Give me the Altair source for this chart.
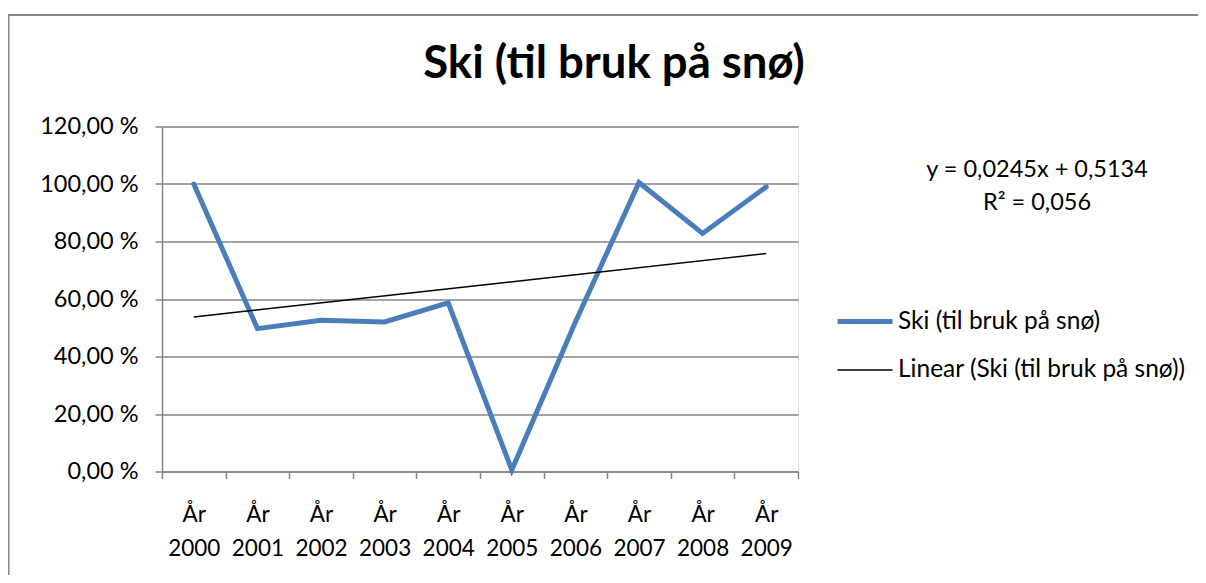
import altair as alt
import pandas as pd

# ---- data ----
years = ["2000", "2001", "2002", "2003", "2004", "2005", "2006", "2007", "2008", "2009"]
share = [1.00, 0.497, 0.526, 0.520, 0.587, 0.005, 0.520, 1.005, 0.828, 0.990]
series_name = "Ski (til bruk på snø)"
trend_name = "Linear (Ski (til bruk på snø))"
equation_lines = ["y = 0,0245x + 0,5134", "R² = 0,056"]
y_ticks = [0.0, 0.2, 0.4, 0.6, 0.8, 1.0, 1.2]
title_text = "Ski (til bruk på snø)"

df = pd.DataFrame({
    "idx": list(range(1, len(years) + 1)),
    "year": years,
    "value": share,
    "series": series_name,
})

FONT = "Lato"
GRID = "#868686"
BLUE = "#4A7EBB"
W, H = 636, 345

n = len(years)
label_positions = list(range(1, n + 1))
boundary_positions = [i + 0.5 for i in range(0, n + 1)]

# nested ternary: tick position -> year label
year_expr = "''"
for i in range(n, 0, -1):
    year_expr = f"(round(datum.value) == {i} ? '{years[i - 1]}' : {year_expr})"

x_scale = alt.Scale(domain=[0.5, n + 0.5], nice=False, zero=False)
y_scale = alt.Scale(domain=[0, 1.2], nice=False)
color_scale = alt.Scale(domain=[series_name, trend_name], range=[BLUE, "#000000"])
sw_scale = alt.Scale(domain=[series_name, trend_name], range=[5, 1.5])

x_label_axis = alt.Axis(
    orient="bottom",
    values=label_positions,
    title=None,
    grid=False,
    ticks=False,
    domainColor=GRID,
    domainWidth=1.5,
    labelExpr=f"['År', {year_expr}]",
    labelAngle=0,
    labelAlign="center",
    labelFont=FONT,
    labelFontSize=22.5,
    labelColor="black",
    labelLineHeight=34,
    labelPadding=32,
    labelOverlap=False,
    labelBound=False,
    labelFlush=False,
)

x_tick_axis = alt.Axis(
    orient="bottom",
    values=boundary_positions,
    title=None,
    grid=False,
    labels=False,
    domain=False,
    tickColor=GRID,
    tickWidth=1.5,
    tickSize=7,
)

y_axis = alt.Axis(
    values=y_ticks,
    title=None,
    grid=True,
    gridColor=GRID,
    gridWidth=1.5,
    domainColor=GRID,
    domainWidth=1.5,
    tickColor=GRID,
    tickWidth=1.5,
    tickSize=7,
    labelExpr="replace(format(datum.value * 100, '.2f'), '.', ',') + ' %'",
    labelFont=FONT,
    labelFontSize=23.5,
    labelColor="black",
    labelPadding=17,
)

legend = alt.Legend(
    title=None,
    orient="none",
    legendX=673,
    legendY=165,
    symbolType="stroke",
    symbolSize=3025,
    labelFont=FONT,
    labelFontSize=24.5,
    labelColor="black",
    labelOffset=3,
    labelLimit=500,
    rowPadding=8,
)

base = alt.Chart(df)

data_line = base.mark_line(strokeJoin="miter", strokeCap="round").encode(
    x=alt.X("idx:Q", scale=x_scale, axis=x_label_axis),
    y=alt.Y("value:Q", scale=y_scale, axis=y_axis),
    color=alt.Color("series:N", scale=color_scale, legend=legend),
    strokeWidth=alt.StrokeWidth("series:N", scale=sw_scale, legend=legend),
)

trend_line = base.transform_regression(
    "idx", "value", method="linear"
).transform_calculate(
    series=f"'{trend_name}'",
).mark_line().encode(
    x=alt.X("idx:Q", scale=x_scale, axis=x_tick_axis),
    y=alt.Y("value:Q", scale=y_scale),
    color=alt.Color("series:N", scale=color_scale, legend=legend),
    strokeWidth=alt.StrokeWidth("series:N", scale=sw_scale, legend=legend),
)

equation = alt.Chart(alt.Data(values=[{}])).mark_text(
    text=equation_lines,
    font=FONT,
    fontSize=23.5,
    color="black",
    align="center",
    baseline="alphabetic",
    lineHeight=33,
).encode(x=alt.value(875), y=alt.value(50))

title = alt.Chart(alt.Data(values=[{}])).mark_text(
    text=title_text,
    font=FONT,
    fontSize=45.5,
    fontWeight="bold",
    color="black",
    align="center",
    baseline="alphabetic",
).encode(x=alt.value(452), y=alt.value(-49))

border = alt.Chart(alt.Data(values=[{}])).mark_rect(
    filled=False, stroke=GRID, strokeWidth=2
).encode(
    x=alt.value(-153.5), y=alt.value(-111.5),
    x2=alt.value(W + 700), y2=alt.value(H + 400),
)

chart = alt.layer(border, data_line, trend_line, equation, title).resolve_axis(
    x="independent"
).properties(
    width=W,
    height=H,
    autosize=alt.AutoSizeParams(type="none"),
    padding={"left": 154, "top": 118.5, "right": 400, "bottom": 103.5},
).configure_view(stroke=None).configure(background="white")

chart.save("out.html", embed_options={"renderer": "svg", "actions": False})
